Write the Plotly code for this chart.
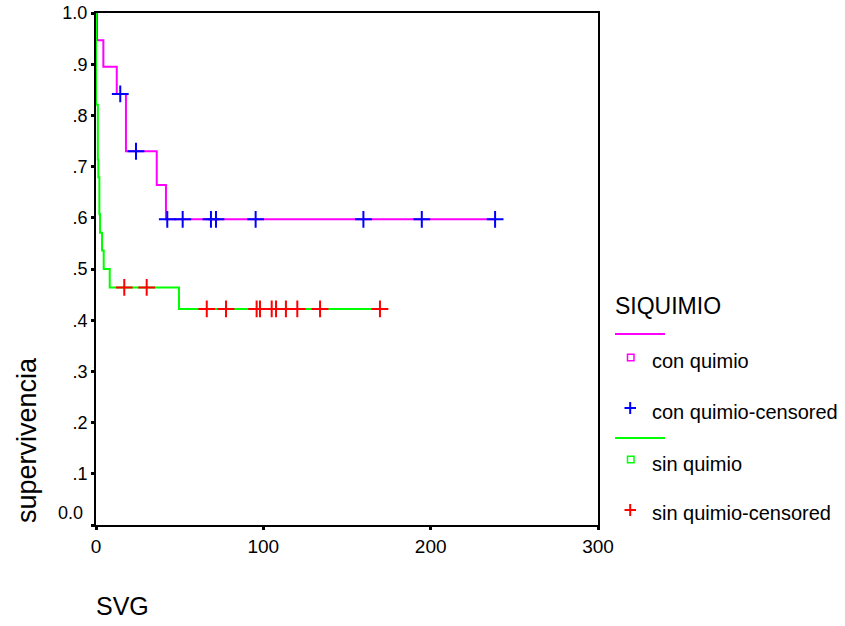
import plotly.graph_objects as go

# ---- data ----
con_t = [0, 0.6, 4.4, 12.4, 17.9, 36.3, 41.8, 238.5]
con_s = [1.0, 0.947, 0.895, 0.842, 0.730, 0.664, 0.597, 0.597]
con_cens_t = [14.5, 23.9, 42.6, 51.8, 68.7, 71.7, 95.4, 159.8, 194.7, 238.5]
con_cens_s = [0.842, 0.730, 0.597, 0.597, 0.597, 0.597, 0.597, 0.597, 0.597, 0.597]

sin_t = [0, 0, 1.1, 1.4, 2.0, 2.4, 3.6, 4.6, 8.2, 49.6, 169.7]
sin_s = [1.0, 0.821, 0.714, 0.679, 0.607, 0.571, 0.536, 0.500, 0.464, 0.422, 0.422]
sin_cens_t = [16.9, 30.3, 66.2, 77.7, 96.0, 98.0, 105.0, 107.6, 113.5, 120.3, 133.9, 169.7]
sin_cens_s = [0.464, 0.464, 0.422, 0.422, 0.422, 0.422, 0.422, 0.422, 0.422, 0.422, 0.422, 0.422]

y_tickvals = [0.0, 0.1, 0.2, 0.3, 0.4, 0.5, 0.6, 0.7, 0.8, 0.9, 1.0]
y_ticktext = ["", ".1", ".2", ".3", ".4", ".5", ".6", ".7", ".8", ".9", "1.0"]
x_tickvals = [0, 100, 200, 300]

PINK, BLUE, GREEN, RED = "#FF00FF", "#0000FF", "#00FF00", "#FF0000"
FONT = "Liberation Sans, Arial, sans-serif"

fig = go.Figure()
fig.add_trace(go.Scatter(x=con_t, y=con_s, mode="lines", line=dict(color=PINK, width=2, shape="hv"),
                         showlegend=False, hoverinfo="skip"))
fig.add_trace(go.Scatter(x=sin_t, y=sin_s, mode="lines", line=dict(color=GREEN, width=2, shape="hv"),
                         showlegend=False, hoverinfo="skip"))
fig.add_trace(go.Scatter(x=con_cens_t, y=con_cens_s, mode="markers",
                         marker=dict(symbol="cross-thin", size=12, line=dict(color=BLUE, width=2)),
                         showlegend=False))
fig.add_trace(go.Scatter(x=sin_cens_t, y=sin_cens_s, mode="markers",
                         marker=dict(symbol="cross-thin", size=12, line=dict(color=RED, width=2)),
                         showlegend=False))

W, H = 845, 626
L, R, T, B = 96, 598, 13, 525

def px(x):
    return (x - L) / (R - L)

def py(y):
    return (B - y) / (B - T)

fig.update_layout(
    width=W, height=H,
    margin=dict(l=L, r=W - R, t=T, b=H - B, autoexpand=False),
    plot_bgcolor="white", paper_bgcolor="white",
    font=dict(family=FONT, color="black"),
    showlegend=False,
    xaxis=dict(range=[0, 300], tickvals=x_tickvals, showgrid=False, zeroline=False, automargin=False,
               showline=True, linecolor="black", linewidth=2, mirror=True,
               ticks="outside", ticklen=3, tickwidth=3, tickcolor="black",
               tickfont=dict(size=19, family=FONT)),
    yaxis=dict(range=[0, 1.0], tickvals=y_tickvals, ticktext=y_ticktext, showgrid=False, zeroline=False,
               automargin=False,
               showline=True, linecolor="black", linewidth=2, mirror=True,
               ticks="outside", ticklen=3, tickwidth=3, tickcolor="black",
               tickfont=dict(size=18, family=FONT)),
)

ann = []
ann.append(dict(x=px(85), y=py(513), xref="paper", yref="paper", text="0.0", showarrow=False,
                xanchor="right", yanchor="middle", font=dict(size=18)))
ann.append(dict(x=px(94), y=py(606), xref="paper", yref="paper", text="SVG", showarrow=False,
                xanchor="left", yanchor="middle", font=dict(size=25)))
ann.append(dict(x=px(27), y=py(440), xref="paper", yref="paper", text="supervivencia", showarrow=False,
                textangle=-90, xanchor="center", yanchor="middle", font=dict(size=27)))
ann.append(dict(x=px(613), y=py(306), xref="paper", yref="paper", text="SIQUIMIO", showarrow=False,
                xanchor="left", yanchor="middle", font=dict(size=23)))
for txt, yy in [("con quimio", 361), ("con quimio-censored", 412), ("sin quimio", 464), ("sin quimio-censored", 513)]:
    ann.append(dict(x=px(650), y=py(yy), xref="paper", yref="paper", text=txt, showarrow=False,
                    xanchor="left", yanchor="middle", font=dict(size=20)))
fig.update_layout(annotations=ann)

shapes = []
for col, yy in [(PINK, 334), (GREEN, 438)]:
    shapes.append(dict(type="line", xref="paper", yref="paper", x0=px(615), x1=px(665),
                       y0=py(yy), y1=py(yy), line=dict(color=col, width=2)))
for col, yy in [(PINK, 357.5), (GREEN, 459.5)]:
    shapes.append(dict(type="rect", xref="paper", yref="paper", x0=px(627.5), x1=px(634),
                       y0=py(yy - 3.2), y1=py(yy + 3.2), line=dict(color=col, width=1.5)))
for col, yy in [(BLUE, 408), (RED, 510)]:
    shapes.append(dict(type="line", xref="paper", yref="paper", x0=px(624.5), x1=px(636),
                       y0=py(yy), y1=py(yy), line=dict(color=col, width=2)))
    shapes.append(dict(type="line", xref="paper", yref="paper", x0=px(630.2), x1=px(630.2),
                       y0=py(yy - 6), y1=py(yy + 6), line=dict(color=col, width=2)))
fig.update_layout(shapes=shapes)

fig.write_html("out.html", config={"displayModeBar": False},
               post_script="document.body.style.margin='0';document.body.style.overflow='hidden';")
